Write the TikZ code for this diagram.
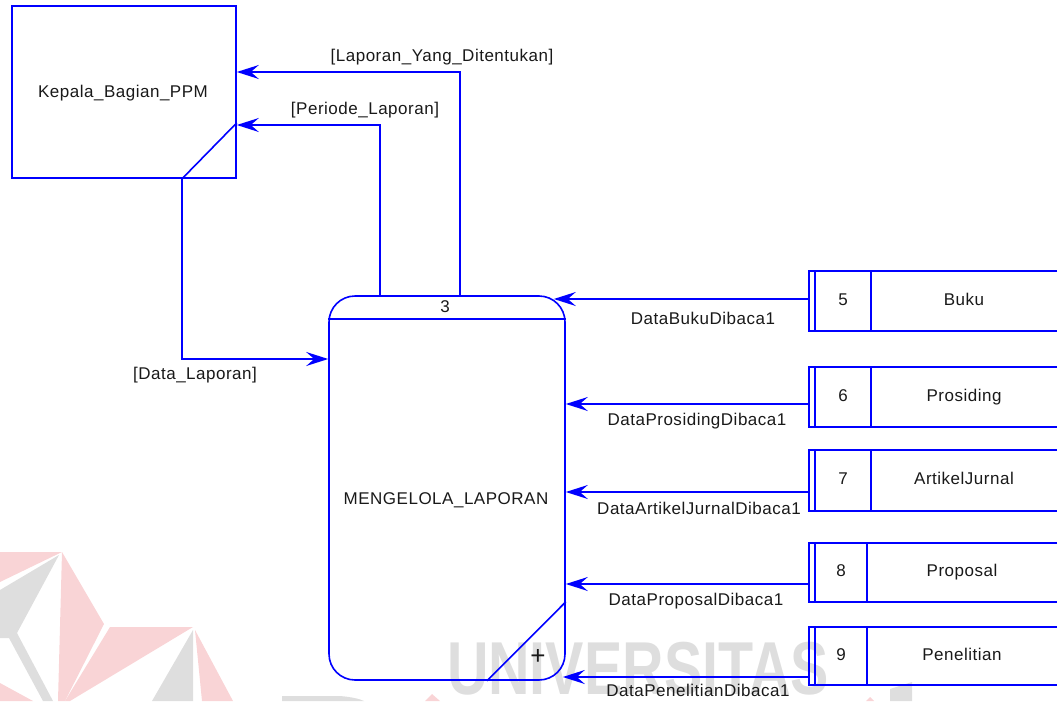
\documentclass[tikz,border=0pt]{standalone}
\usepackage{fontspec}
\setmainfont{Liberation Sans}
\newfontfamily\labelfont[LetterSpace=3]{Liberation Sans}
\usetikzlibrary{arrows.meta,calc}
\definecolor{dfd}{RGB}{0,0,255}
\definecolor{wmpink}{RGB}{249,212,214}
\definecolor{wmgrey}{RGB}{222,222,222}
\begin{document}
\begin{tikzpicture}[x=1pt,y=-1pt,
  lbl/.style={font=\labelfont\fontsize{17}{20}\selectfont, inner sep=0pt, text=black!90,
              text height=12pt, text depth=3.5pt},
  shapeline/.style={draw=dfd, line width=1.6pt},
  flow/.style={draw=dfd, line width=1.6pt, -{Stealth[length=22pt,width=14pt,inset=8pt]}},
  storeline/.style={draw=dfd, line width=1.6pt},
  wmtext/.style={font=\bfseries\fontsize{75}{75}\selectfont, text=wmgrey, inner sep=0pt},
]
\useasboundingbox (0,0) rectangle (1062,701);

% --- faint logo in the background ---
\fill[wmpink] (0,552) -- (62,552) -- (0,582) -- cycle;
\fill[wmgrey] (59,555) -- (0,590) -- (0,638) -- (9,638) -- (43,701) -- (53,701) -- (17,633) -- cycle;
\fill[wmpink] (62,552) -- (104,624) -- (65,701) -- (58,701) -- cycle;
\fill[wmpink] (0,683) -- (33,701) -- (0,701) -- cycle;
\fill[wmpink] (110,627) -- (193,627) -- (70,701) -- (65,701) -- cycle;
\fill[wmgrey] (193,630) -- (152,701) -- (193,701) -- cycle;
\fill[wmpink] (195,630) -- (233,701) -- (202,701) -- cycle;
\fill[wmgrey] (282,696) -- (340,696) .. controls (352,697) and (360,699) .. (364,701) -- (282,701) -- cycle;
\fill[wmpink] (425,701) -- (432,694) -- (440,701) -- cycle;
\fill[wmpink] (866,701) -- (870,697) -- (874,701) -- cycle;
\fill[wmgrey] (890,689) -- (912,682) -- (912,701) -- (890,701) -- cycle;
\node[wmtext] (wm) at (638,669) {\scalebox{0.766}[1]{UNIVERSITAS}};

% --- external entity ---
\node[shapeline, minimum width=224pt, minimum height=172pt, inner sep=0pt] (kep) at (124,92) {};
\node[lbl] (kepname) at (123,93) {Kepala\_Bagian\_PPM};
\coordinate (kepA) at ([yshift=20pt]kep.east);
\coordinate (kepB) at ([yshift=-33pt]kep.east);
\coordinate (kepC) at ([xshift=58pt]kep.south);
\draw[shapeline] (kepC) -- ([yshift=56pt]kep.south east);

% --- process ---
\node[shapeline, rounded corners=26pt, minimum width=236pt, minimum height=384pt, inner sep=0pt] (proc) at (447,488) {};
\draw[shapeline] ([yshift=-24pt]proc.north west) -- ([yshift=-24pt]proc.north east);
\node[lbl] (procid) at (445,308) {3};
\node[lbl] (procname) at (446,500) {MENGELOLA\_LAPORAN};
\draw[shapeline] ([xshift=40pt]proc.south) -- ([yshift=79pt]proc.south east);
\node[font=\fontsize{26}{26}\selectfont, inner sep=0pt, text=black!90] (plus) at (538,657) {+};
\coordinate (procA) at ([xshift=13pt]proc.north);
\coordinate (procB) at ([xshift=-67pt]proc.north);
\coordinate (procC) at ([yshift=129pt]proc.west);

% --- flows between entity and process ---
\draw[flow] (procA) |- (kepA);
\draw[flow] (procB) |- (kepB);
\draw[flow] (kepC) |- (procC);
\node[lbl] (lA) at (442,57) {[Laporan\_Yang\_Ditentukan]};
\node[lbl] (lB) at (365,110) {[Periode\_Laporan]};
\node[lbl] (lC) at (195,375) {[Data\_Laporan]};

% --- data stores and their flows ---
\foreach \n/\name/\yt/\yb/\dx/\ay/\tip in {
    5/Buku/271/331/871/299/-12,
    6/Prosiding/367/427/871/404/0,
    7/ArtikelJurnal/450/511/871/492/0,
    8/Proposal/543/602/867/584/0,
    9/Penelitian/627/685/867/677/-3} {
  \draw[storeline] (1057,\yt) -- (809,\yt) -- (809,\yb) -- (1057,\yb);
  \draw[storeline] (815,\yt) -- (815,\yb);
  \draw[storeline] (\dx,\yt) -- (\dx,\yb);
  \node[lbl] (num\n) at ({(815+\dx)/2},{(\yt+\yb)/2}) {\n};
  \node[lbl] (name\n) at ({(\dx+1057)/2},{(\yt+\yb)/2}) {\name};
  \coordinate (out\n) at (809,\ay);
  \path (out\n -| proc.east) ++(\tip,0) coordinate (in\n);
  \draw[flow] (out\n) -- (in\n);
}
\node[lbl] (f5) at (703,320) {DataBukuDibaca1};
\node[lbl] (f6) at (697,421) {DataProsidingDibaca1};
\node[lbl] (f7) at (699,510) {DataArtikelJurnalDibaca1};
\node[lbl] (f8) at (696,601) {DataProposalDibaca1};
\node[lbl] (f9) at (698,692) {DataPenelitianDibaca1};
\end{tikzpicture}
\end{document}
